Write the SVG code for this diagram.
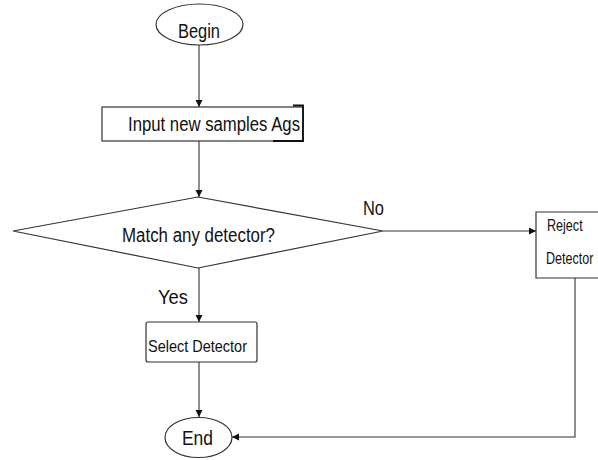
<svg xmlns="http://www.w3.org/2000/svg" width="598" height="460" viewBox="0 0 598 460">
  <style>
    .shape { fill: #ffffff; stroke: #333333; stroke-width: 1.2; }
    .line { fill: none; stroke: #333333; stroke-width: 1.1; }
    .lbl { font-family: "Liberation Sans Narrow", "Liberation Sans", Arial, sans-serif; fill: #111111; }
    .big { font-size: 20px; }
    .small { font-size: 17px; }
  </style>
  <defs>
    <marker id="arrow" viewBox="0 0 10 10" refX="10" refY="5" markerWidth="7" markerHeight="8" markerUnits="userSpaceOnUse" orient="auto">
      <path d="M0,0 L10,5 L0,10 z" fill="#111111"/>
    </marker>
  </defs>
  <rect width="598" height="460" fill="#ffffff"/>

  <g id="connectors">
    <line class="line" x1="199" y1="45" x2="199" y2="107" marker-end="url(#arrow)"/>
    <line class="line" x1="199" y1="141" x2="199" y2="197" marker-end="url(#arrow)"/>
    <line class="line" x1="383" y1="231" x2="536" y2="231" marker-end="url(#arrow)"/>
    <line class="line" x1="199" y1="268" x2="199" y2="322" marker-end="url(#arrow)"/>
    <line class="line" x1="199" y1="362" x2="199" y2="417" marker-end="url(#arrow)"/>
    <polyline class="line" points="575,278 575,437 232,437" marker-end="url(#arrow)"/>
    <text class="lbl big" x="363" y="215" textLength="21" lengthAdjust="spacingAndGlyphs">No</text>
    <text class="lbl big" x="158" y="304" textLength="30" lengthAdjust="spacingAndGlyphs">Yes</text>
  </g>

  <g id="begin">
    <ellipse class="shape" cx="199.5" cy="24.5" rx="43.5" ry="20.5"/>
    <text class="lbl big" x="178" y="38" textLength="42" lengthAdjust="spacingAndGlyphs">Begin</text>
  </g>

  <g id="input">
    <rect class="shape" x="102" y="107" width="201" height="34"/>
    <polyline fill="none" stroke="#111111" stroke-width="1.8" points="293,105.5 303,105.5 303,141 273,141"/>
    <text class="lbl big" x="128" y="131" textLength="172" lengthAdjust="spacingAndGlyphs">Input new samples Ags</text>
  </g>

  <g id="decision">
    <polygon class="shape" points="13,231 198,197 383,231 198,268"/>
    <text class="lbl big" x="122" y="242" textLength="153" lengthAdjust="spacingAndGlyphs">Match any detector?</text>
  </g>

  <g id="reject">
    <!-- box runs off the right edge, so only three sides are drawn -->
    <path class="shape" d="M598,212 H536 V278 H598"/>
    <text class="lbl small" transform="translate(547,231) scale(0.74,1)">Reject</text>
    <text class="lbl small" transform="translate(546,264) scale(0.74,1)">Detector</text>
  </g>

  <g id="select">
    <rect class="shape" x="146" y="322" width="111" height="40" rx="2"/>
    <text class="lbl small" x="148" y="352" textLength="99" lengthAdjust="spacingAndGlyphs">Select Detector</text>
  </g>

  <g id="end">
    <ellipse class="shape" cx="198.5" cy="437.5" rx="33.5" ry="20"/>
    <text class="lbl big" x="182" y="445" textLength="31" lengthAdjust="spacingAndGlyphs">End</text>
  </g>
</svg>
